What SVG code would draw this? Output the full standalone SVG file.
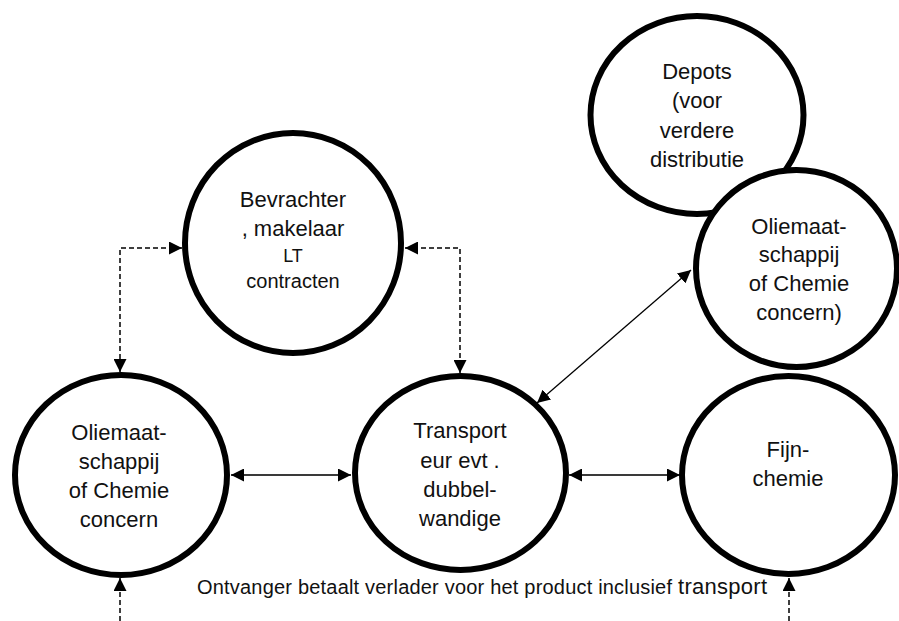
<svg xmlns="http://www.w3.org/2000/svg" width="899" height="621" viewBox="0 0 899 621">
  <style>
    .node { fill: #ffffff; stroke: #000000; stroke-width: 6; }
    .lbl { font-family: "Liberation Sans", Arial, sans-serif; font-size: 22px; fill: #111111; text-anchor: middle; }
    .flow { fill: none; stroke: #3a3a3a; stroke-width: 2; }
    .link { fill: none; stroke: #000000; stroke-width: 1.3; }
    .dash { fill: none; stroke: #000000; stroke-width: 1.5; stroke-dasharray: 5 3; }
    .note { font-family: "Liberation Sans", Arial, sans-serif; font-size: 20px; fill: #111111; }
  </style>
  <defs>
    <marker id="head" viewBox="0 0 13 13" refX="13" refY="6.5" markerWidth="13" markerHeight="13" markerUnits="userSpaceOnUse" orient="auto-start-reverse">
      <path d="M0,0 L13,6.5 L0,13 z" fill="#000000"/>
    </marker>
  </defs>

  <rect width="899" height="621" fill="#ffffff"/>

  <!-- connectors -->
  <g id="connectors">
    <path class="dash" d="M182,248 H120 V372" marker-start="url(#head)" marker-end="url(#head)"/>
    <path class="dash" d="M405,248 H460 V373" marker-start="url(#head)" marker-end="url(#head)"/>
    <path class="flow" d="M231,475 H351" marker-start="url(#head)" marker-end="url(#head)"/>
    <path class="flow" d="M569,475 H680" marker-start="url(#head)" marker-end="url(#head)"/>
    <path class="link" d="M537,403 L691,270" marker-start="url(#head)" marker-end="url(#head)"/>
    <path class="dash" d="M120,621 V578" marker-end="url(#head)"/>
    <path class="dash" d="M789,621 V578" marker-end="url(#head)"/>
  </g>

  <!-- nodes -->
  <g id="bevrachter">
    <ellipse class="node" cx="293" cy="243" rx="108" ry="110"/>
    <text class="lbl" x="293" y="207">Bevrachter</text>
    <text class="lbl" x="293" y="236">, makelaar</text>
    <text class="lbl" x="293" y="262" style="font-size:18px">LT</text>
    <text class="lbl" x="293" y="288" style="font-size:20px">contracten</text>
  </g>

  <g id="depots">
    <ellipse class="node" cx="697" cy="115" rx="106.5" ry="99"/>
    <text class="lbl" x="697" y="79">Depots</text>
    <text class="lbl" x="697" y="108">(voor</text>
    <text class="lbl" x="697" y="138">verdere</text>
    <text class="lbl" x="697" y="167">distributie</text>
  </g>

  <g id="oliemaatschappij-rechts">
    <ellipse class="node" cx="796.5" cy="268.5" rx="100.5" ry="98.5"/>
    <text class="lbl" x="799" y="234">Oliemaat-</text>
    <text class="lbl" x="799" y="262">schappij</text>
    <text class="lbl" x="799" y="291">of Chemie</text>
    <text class="lbl" x="799" y="320">concern)</text>
  </g>

  <g id="oliemaatschappij-links">
    <ellipse class="node" cx="121" cy="475" rx="106" ry="100"/>
    <text class="lbl" x="119" y="440">Oliemaat-</text>
    <text class="lbl" x="119" y="469">schappij</text>
    <text class="lbl" x="119" y="498">of Chemie</text>
    <text class="lbl" x="119" y="527">concern</text>
  </g>

  <g id="transporteur">
    <ellipse class="node" cx="460.5" cy="473" rx="105.5" ry="97"/>
    <text class="lbl" x="460" y="438">Transport</text>
    <text class="lbl" x="460" y="468">eur evt .</text>
    <text class="lbl" x="460" y="497">dubbel-</text>
    <text class="lbl" x="460" y="526">wandige</text>
  </g>

  <g id="fijnchemie">
    <ellipse class="node" cx="788.5" cy="475" rx="106.5" ry="99"/>
    <text class="lbl" x="788" y="457">Fijn-</text>
    <text class="lbl" x="788" y="486">chemie</text>
  </g>

  <!-- payment note -->
  <g id="betaling">
    <text class="note" x="197" y="594" textLength="475" lengthAdjust="spacing">Ontvanger betaalt verlader voor het product inclusief</text>
    <text class="note" x="678" y="594" style="font-size:22px" textLength="89" lengthAdjust="spacing">transport</text>
  </g>
</svg>
